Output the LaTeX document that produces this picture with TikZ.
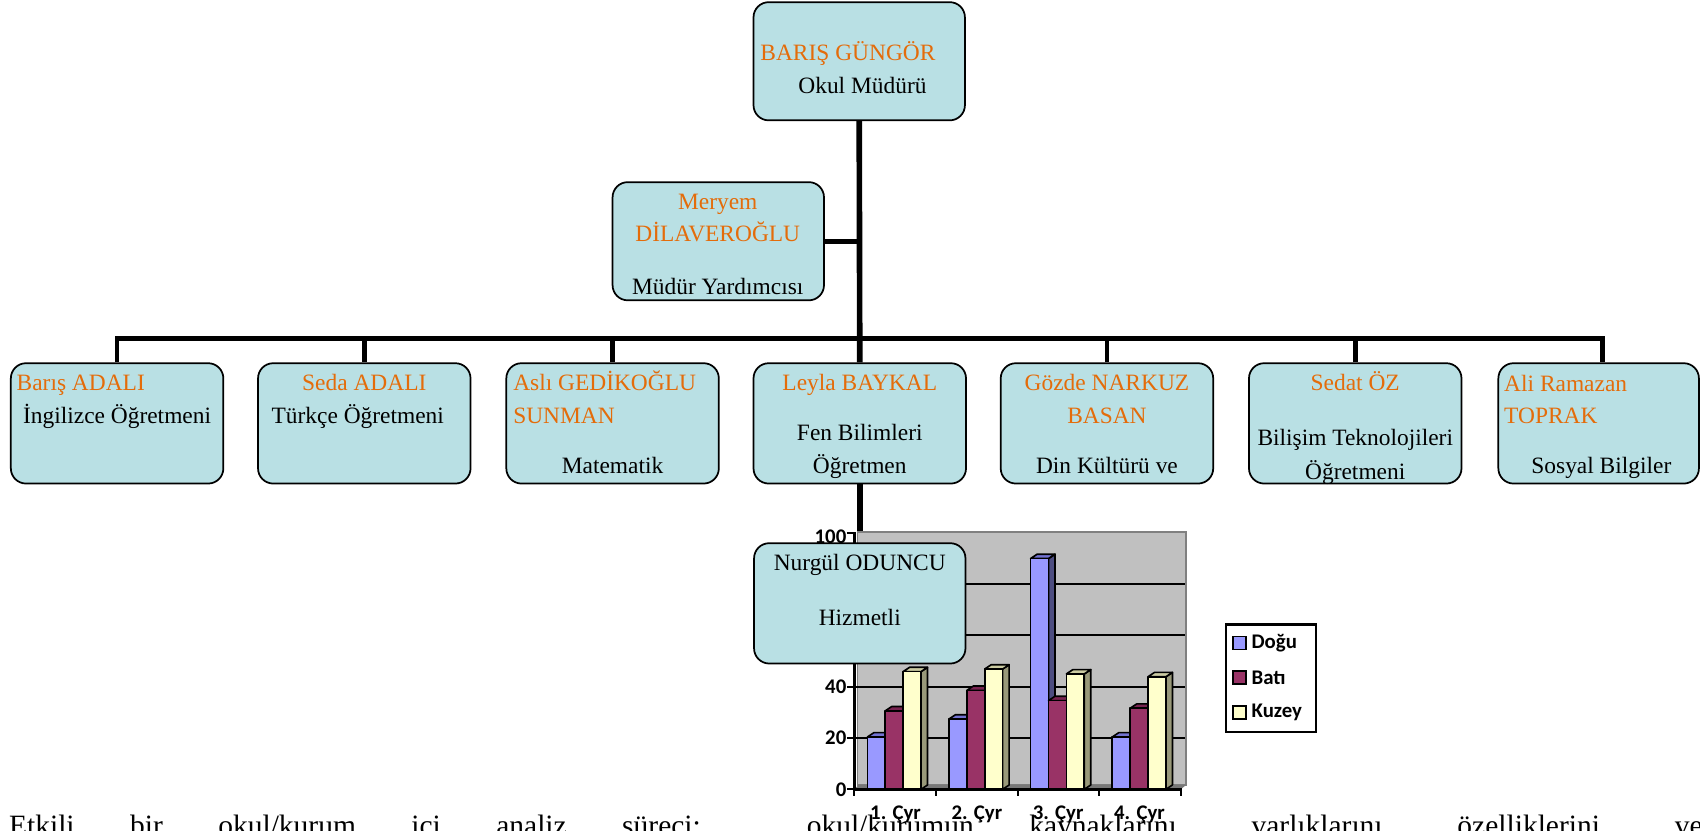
\documentclass[tikz,border=0pt]{standalone}
\usepackage{fontspec}
\setmainfont{Liberation Serif}
\newfontfamily\chartfont{Carlito}
\definecolor{boxfill}{RGB}{185,224,228}
\definecolor{orgorange}{RGB}{228,108,10}
\definecolor{wallgray}{RGB}{192,192,192}
\definecolor{walledge}{RGB}{128,128,128}
\definecolor{floorgray}{RGB}{120,120,120}
\definecolor{blueF}{RGB}{153,153,255}
\definecolor{blueT}{RGB}{115,115,210}
\definecolor{blueS}{RGB}{77,77,128}
\definecolor{marF}{RGB}{153,51,102}
\definecolor{marT}{RGB}{120,35,80}
\definecolor{marS}{RGB}{77,26,51}
\definecolor{yelF}{RGB}{255,255,204}
\definecolor{yelT}{RGB}{204,204,163}
\definecolor{yelS}{RGB}{153,153,122}
\newcommand{\chartbar}[5]{%
  \pgfmathsetmacro{\bx}{#1}\pgfmathsetmacro{\by}{728-#2*2.365}%
  \filldraw[fill=#5, barline] (\bx+16.5,\by) -- (\bx+22.5,\by-4) -- (\bx+22.5,724) -- (\bx+16.5,728) -- cycle;
  \filldraw[fill=#4, barline] (\bx,\by) -- (\bx+6,\by-4) -- (\bx+22.5,\by-4) -- (\bx+16.5,\by) -- cycle;
  \filldraw[fill=#3, barline] (\bx,728) rectangle (\bx+16.5,\by);
}
\begin{document}
\begin{tikzpicture}[x=0.5pt,y=-0.5pt,
  orgbox/.style={draw=black, line width=0.8pt, fill=boxfill, rounded corners=7pt,
     minimum width=98pt, minimum height=55.5pt, inner sep=0pt},
  nm/.style={text=orgorange, font=\fontsize{10.8}{12}\selectfont, inner sep=0pt},
  rl/.style={text=black, font=\fontsize{10.8}{12}\selectfont, inner sep=0pt},
  link/.style={line width=2.2pt, draw=black},
  trunk/.style={line width=2.6pt, draw=black},
  barline/.style={draw=black, line width=0.75pt, line join=round},
  ctext/.style={font=\chartfont\bfseries\fontsize{9.6}{10}\selectfont, inner sep=0pt},
  grid/.style={draw=black, line width=0.9pt}]
\useasboundingbox (0,0) rectangle (1568,766);
\clip (0,0) rectangle (1568,766);

% ---------- org boxes ----------
\node[orgbox, minimum width=97.5pt, minimum height=54.5pt] (top) at (792.5,56.5) {};
\node[orgbox, minimum width=97.5pt, minimum height=54.5pt] (mer) at (662.5,222.5) {};
\node[orgbox] (b1) at (108,390.5) {};
\node[orgbox] (b2) at (336,390.5) {};
\node[orgbox] (b3) at (565,390.5) {};
\node[orgbox] (b4) at (793,390.5) {};
\node[orgbox] (b5) at (1021,390.5) {};
\node[orgbox] (b6) at (1250,390.5) {};
\node[orgbox, minimum width=92.5pt] (b7) at (1474.5,390.5) {};

% ---------- connectors ----------
\coordinate (barY) at (0,312);
\coordinate (d7) at (1478,312);
\draw[trunk] (top.south) -- (b4.north);
\draw[link] (mer.east) -- (mer.east -| top.south);
\draw[link, line join=miter] (b1.north) |- (d7) -- (d7 |- b7.north);
\draw[link] (b2.north) -- (b2.north |- barY);
\draw[link] (b3.north) -- (b3.north |- barY);
\draw[link] (b5.north) -- (b5.north |- barY);
\draw[link] (b6.north) -- (b6.north |- barY);
\draw[trunk] (b4.south) -- (793,501);

% ---------- texts ----------
\node[nm, anchor=base west] (t01) at (701,56) {BARIŞ GÜNGÖR};
\node[rl, anchor=base east] (t02) at (855,86) {Okul Müdürü};
\node[nm, anchor=base] (t03) at (662,193) {Meryem};
\node[nm, anchor=base] (t04) at (662,223) {DİLAVEROĞLU};
\node[rl, anchor=base] (t05) at (662,272) {Müdür Yardımcısı};

\node[nm, anchor=base west] (t11) at (15,360) {Barış ADALI};
\node[rl, anchor=base] (t12) at (108,391) {İngilizce Öğretmeni};
\node[nm, anchor=base] (t21) at (336,360) {Seda ADALI};
\node[rl, anchor=base] (t22) at (330,391) {Türkçe Öğretmeni};
\node[nm, anchor=base west] (t31) at (473,360) {Aslı GEDİKOĞLU};
\node[nm, anchor=base west] (t32) at (473,391) {SUNMAN};
\node[rl, anchor=base] (t33) at (565,437) {Matematik};
\node[nm, anchor=base] (t41) at (793,360) {Leyla BAYKAL};
\node[rl, anchor=base] (t42) at (793,406) {Fen Bilimleri};
\node[rl, anchor=base] (t43) at (793,437) {Öğretmen};
\node[nm, anchor=base] (t51) at (1021,360) {Gözde NARKUZ};
\node[nm, anchor=base] (t52) at (1021,391) {BASAN};
\node[rl, anchor=base] (t53) at (1021,437) {Din Kültürü ve};
\node[nm, anchor=base] (t61) at (1250,360) {Sedat ÖZ};
\node[rl, anchor=base] (t62) at (1250,411) {Bilişim Teknolojileri};
\node[rl, anchor=base] (t63) at (1250,442) {Öğretmeni};
\node[nm, anchor=base west] (t71) at (1387,361) {Ali Ramazan};
\node[nm, anchor=base west] (t72) at (1387,391) {TOPRAK};
\node[rl, anchor=base] (t73) at (1477,437) {Sosyal Bilgiler};

% ---------- chart ----------
\filldraw[fill=wallgray, draw=walledge, line width=0.8pt] (791,491) rectangle (1094,724);
\fill[floorgray] (788,728) -- (792,724) -- (1094,724) -- (1089,728) -- cycle;
\foreach \v in {20,40,60,80} {
  \draw[grid] (788,728-\v*2.365) -- (1093,728-\v*2.365);
}
\foreach \g/\a/\b/\c in {0/20.4/30.6/45.9, 1/27.4/38.6/46.9, 2/90/34.6/45, 3/20.4/31.6/43.9} {
  \pgfmathsetmacro{\gx}{800+75.3*\g}
  \chartbar{\gx}{\a}{blueF}{blueT}{blueS}
  \chartbar{\gx+16.5}{\b}{marF}{marT}{marS}
  \chartbar{\gx+33}{\c}{yelF}{yelT}{yelS}
}
\draw[black, line width=1.5pt] (788,728) -- (788,491);
\draw[black, line width=1.5pt] (788,728) -- (1090,728);
\foreach \v in {0,20,...,100} {
  \draw[black, line width=1pt] (781,728-\v*2.365) -- (788,728-\v*2.365);
}
\foreach \i in {0,1,2,3,4} {
  \draw[black, line width=1pt] (788+75.3*\i,728) -- (788+75.3*\i,734);
}
\node[ctext, anchor=east] (y100) at (781,495) {100};
\node[ctext, anchor=east] (y80) at (781,538.8) {80};
\node[ctext, anchor=east] (y60) at (781,586.1) {60};
\node[ctext, anchor=east] (y40) at (781,633.4) {40};
\node[ctext, anchor=east] (y20) at (781,680.7) {20};
\node[ctext, anchor=east] (y0) at (781,728) {0};

% legend
\node[draw=black, fill=white, line width=1pt, minimum width=41.5pt, minimum height=49.5pt, inner sep=0pt] (legend) at (1172.5,625.5) {};
\filldraw[fill=blueF, draw=black, line width=0.8pt] (1137,587) rectangle (1149,599);
\filldraw[fill=marF, draw=black, line width=0.8pt] (1137,619) rectangle (1149,631);
\filldraw[fill=yelF, draw=black, line width=0.8pt] (1137,651) rectangle (1149,663);
\node[ctext, anchor=west] (l1) at (1154,593) {Doğu};
\node[ctext, anchor=west] (l2) at (1154,625) {Batı};
\node[ctext, anchor=west] (l3) at (1154,657) {Kuzey};

% ---------- Nurgül box (over chart) ----------
\node[orgbox, minimum width=97.5pt] (nur) at (793,556.5) {};
\node[rl, anchor=base] (t81) at (793,526) {Nurgül ODUNCU};
\node[rl, anchor=base] (t82) at (793,577) {Hizmetli};

% ---------- body text ----------
\node[anchor=base west, inner sep=0pt, font=\fontsize{13.6}{15}\selectfont] (body) at (8,771)
  {\makebox[781pt][s]{Etkili bir okul/kurum içi analiz süreci: okul/kurumun kaynaklarını, varlıklarını, özelliklerini, ve}};

% x labels
\node[ctext] (x1) at (826,751) {1. Çyr};
\node[ctext] (x2) at (901,751) {2. Çyr};
\node[ctext] (x3) at (976,751) {3. Çyr};
\node[ctext] (x4) at (1051,751) {4. Çyr};
\end{tikzpicture}
\end{document}
